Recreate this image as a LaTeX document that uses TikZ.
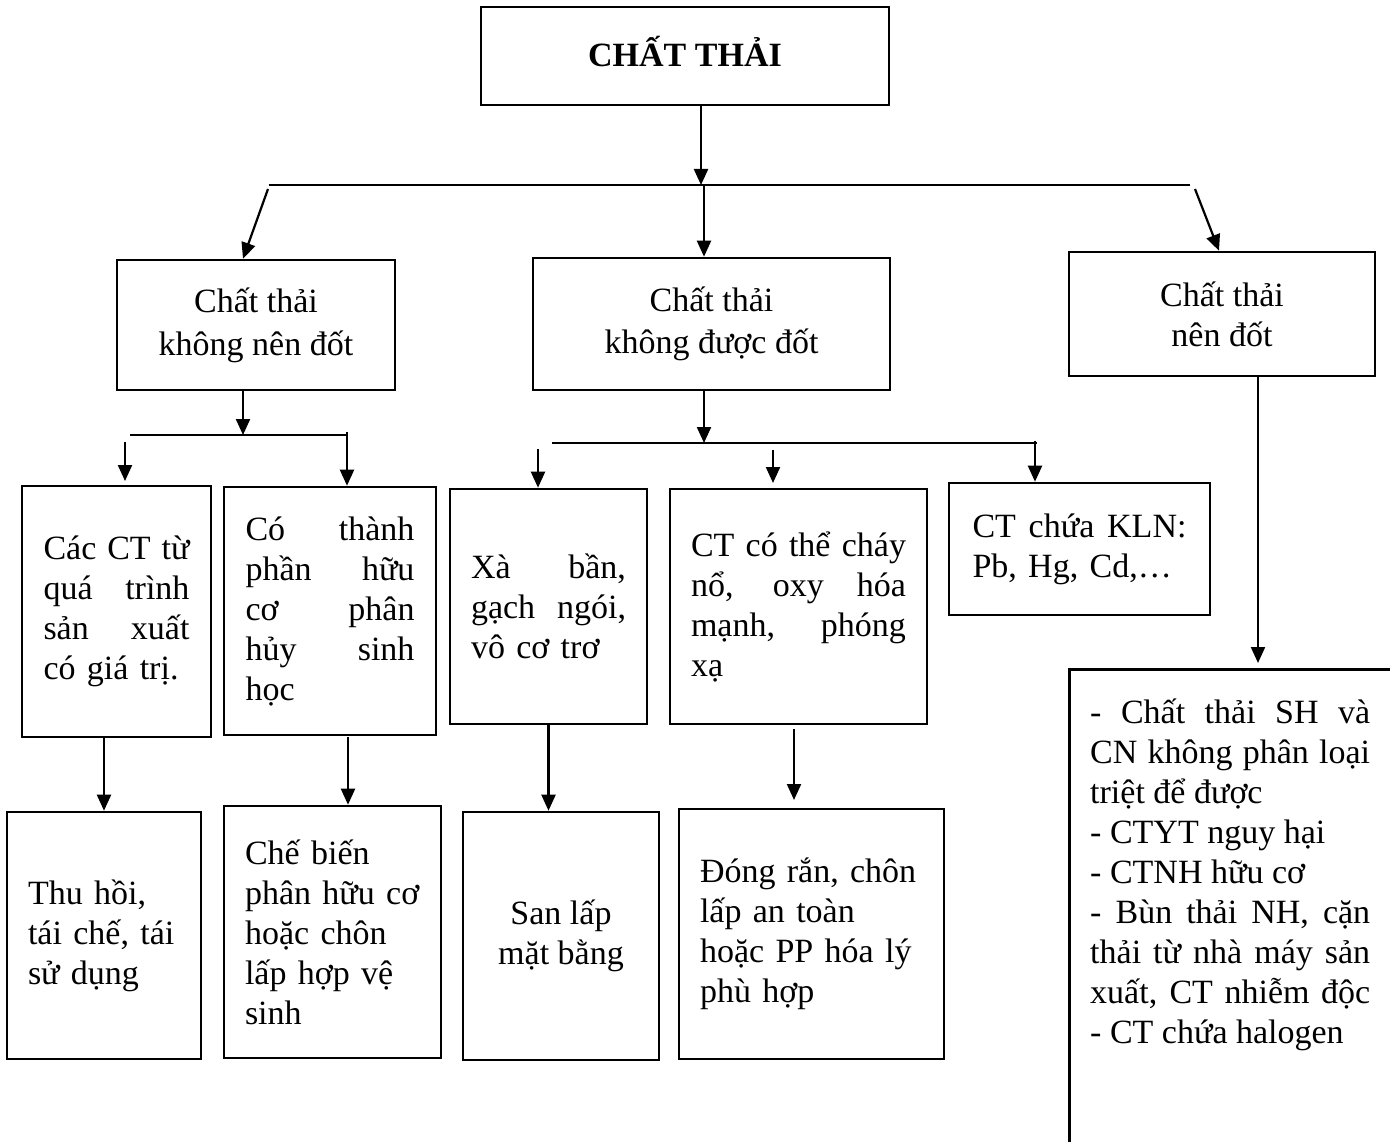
\documentclass[tikz,border=0pt]{standalone}
\usepackage{fontspec}
\setmainfont{Liberation Serif}
\usetikzlibrary{arrows.meta}
\newcommand{\J}[2]{\makebox[#1pt][s]{\spaceskip=0.25em plus 1fil\relax #2}}
\begin{document}
\begin{tikzpicture}[x=1pt,y=-1pt,
  box/.style={draw, line width=2.6pt, inner sep=0pt, font=\fontsize{34}{40}\selectfont, align=center},
  boxt/.style={box, align=left, text width=#1},
  arr/.style={line width=2.2pt, -{Triangle[length=16pt,width=14pt]}},
  ln/.style={line width=2.2pt}]
\clip (0,0) rectangle (1390,1142);
\fill[white] (0,0) rectangle (1390,1142);

% level 0
\node[box, minimum width=408pt, minimum height=98pt, text height=24pt, text depth=2pt] (top) at (685,56) {\bfseries CHẤT THẢI};

% level 1
\node[box, minimum width=278pt, minimum height=130pt, font=\fontsize{34}{43}\selectfont] (L1) at (256,325) {Chất thải\\không nên đốt};
\node[box, minimum width=357pt, minimum height=132pt, font=\fontsize{34}{42}\selectfont] (M1) at (711.5,324) {Chất thải\\không được đốt};
\node[box, minimum width=306pt, minimum height=124pt] (R1) at (1222,314) {Chất thải\\nên đốt};

% level 2
\node[boxt=146pt, minimum width=189pt, minimum height=251pt] (A) at (116.5,611.5)
  {\J{146}{Các CT từ}\\\J{146}{quá trình}\\\J{146}{sản xuất}\\có giá trị.};
\node[boxt=169pt, minimum width=212pt, minimum height=248pt] (B) at (330,611)
  {\J{169}{Có thành}\\\J{169}{phần hữu}\\\J{169}{cơ phân}\\\J{169}{hủy sinh}\\học};
\node[boxt=155pt, minimum width=197pt, minimum height=235pt] (C) at (548.5,606.5)
  {\J{155}{Xà bần,}\\\J{155}{gạch ngói,}\\vô cơ trơ};
\node[boxt=215pt, minimum width=257pt, minimum height=235pt] (D) at (798.5,606.5)
  {\J{215}{CT có thể cháy}\\\J{215}{nổ, oxy hóa}\\\J{215}{mạnh, phóng}\\xạ};
\node[boxt=214pt, minimum width=261pt, minimum height=132pt] (E) at (1079.5,549)
  {\J{214}{CT chứa KLN:}\\Pb, Hg, Cd,…};

% level 3
\node[boxt=152pt, minimum width=194pt, minimum height=247pt] (F) at (104,935.5)
  {Thu hồi,\\tái chế, tái\\sử dụng};
\node[boxt=175pt, minimum width=217pt, minimum height=252pt] (G) at (332.5,932)
  {Chế biến\\phân hữu cơ\\hoặc chôn\\lấp hợp vệ\\sinh};
\node[box, minimum width=196pt, minimum height=248pt] (H) at (561,936)
  {San lấp\\mặt bằng};
\node[boxt=223pt, minimum width=265pt, minimum height=250pt] (I) at (811.5,934)
  {Đóng rắn, chôn\\lấp an toàn\\hoặc PP hóa lý\\phù hợp};

% right big box (runs off the page)
\node[box, anchor=north west, minimum width=340pt, minimum height=500pt] (R2) at (1068,668) {};
\node[anchor=base west, inner sep=0pt, font=\fontsize{34}{40}\selectfont] (R2t) at (1090,723)
  {\parbox[t]{280pt}{\J{280}{- Chất thải SH và}\\\J{280}{CN không phân loại}\\triệt để được\\- CTYT nguy hại\\- CTNH hữu cơ\\\J{280}{- Bùn thải NH, cặn}\\\J{280}{thải từ nhà máy sản}\\\J{280}{xuất, CT nhiễm độc}\\- CT chứa halogen}};

% connectors level 0 -> 1
\coordinate (b1L) at (269,185);
\coordinate (b1R) at (1190,185);
\draw[ln] (b1L) -- (b1R);
\coordinate (j0) at (701,185);
\draw[arr] (top.south -| j0) -- (j0);
\coordinate (d1) at (268,189);
\draw[arr] (d1) -- ([xshift=-13pt]L1.north);
\coordinate (j1) at (704,186);
\draw[arr] (j1) -- (j1 |- M1.north);
\coordinate (d3) at (1195,189);
\draw[arr] (d3) -- ([xshift=-3pt]R1.north);

% L1 -> A, B
\coordinate (b2L) at (130,435);
\coordinate (b2R) at (348,435);
\draw[ln] (b2L) -- (b2R);
\coordinate (j2) at (243,435);
\draw[arr] (L1.south -| j2) -- (j2);
\coordinate (s1) at (125,442);
\coordinate (e1) at (125,481);
\draw[arr] (s1) -- (e1);
\coordinate (s2) at (347,432);
\draw[arr] (s2) -- (s2 |- B.north);

% M1 -> C, D, E
\coordinate (b3L) at (552,443);
\coordinate (b3R) at (1037,443);
\draw[ln] (b3L) -- (b3R);
\coordinate (j3) at (704,443);
\draw[arr] (M1.south -| j3) -- (j3);
\coordinate (s3) at (538,449);
\draw[arr] (s3) -- (s3 |- C.north);
\coordinate (s4) at (773,450);
\coordinate (e4) at (773,483);
\draw[arr] (s4) -- (e4);
\coordinate (s5) at (1035,441);
\draw[arr] (s5) -- (s5 |- E.north);

% R1 -> R2
\coordinate (r2x) at (1258,663);
\draw[arr] (R1.south -| r2x) -- (r2x);

% level 2 -> 3
\draw[arr] (A.south -| F.north) -- (F.north);
\coordinate (s6) at (348,737);
\draw[arr] (s6) -- (s6 |- G.north);
\draw[arr] (C.south) -- (C.south |- H.north);
\coordinate (s7) at (794,729);
\coordinate (e7) at (794,800);
\draw[arr] (s7) -- (e7);
\end{tikzpicture}
\end{document}
